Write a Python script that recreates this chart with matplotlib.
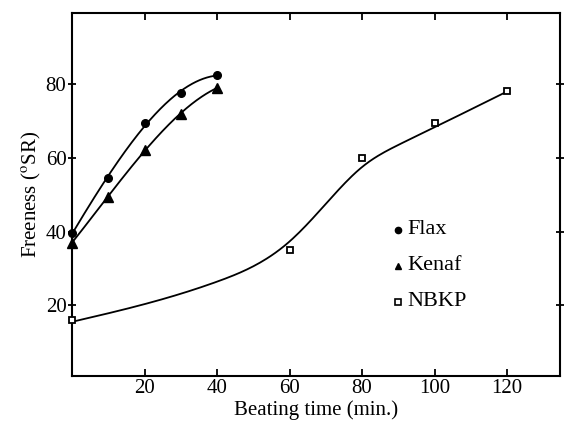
import numpy as np
import matplotlib
matplotlib.use("Agg")
import matplotlib.pyplot as plt

plt.rcParams["font.family"] = ["Liberation Serif", "DejaVu Serif"]
plt.rcParams["mathtext.fontset"] = "stix"

# Measured freeness values
flax_t = [0, 10, 20, 30, 40]
flax_sr = [39.5, 54.5, 69.5, 77.5, 82.5]

kenaf_t = [0, 10, 20, 30, 40]
kenaf_sr = [37, 49.5, 62, 72, 79]

nbkp_t = [0, 60, 80, 100, 120]
nbkp_sr = [16, 35, 60, 69.5, 78]

# Hand-drawn trend line for NBKP
nbkp_trend_t = [0, 20, 40, 60, 70, 80, 90, 100, 120]
nbkp_trend_sr = [15.5, 20.3, 26.4, 37.3, 47.5, 57.5, 63.5, 68.3, 78]

x_ticks = [20, 40, 60, 80, 100, 120]
y_ticks = [20, 40, 60, 80]


def spline(xs, ys, n=200):
    """Natural cubic spline through the given knots."""
    xs = np.asarray(xs, float)
    ys = np.asarray(ys, float)
    k = len(xs)
    h = np.diff(xs)
    A = np.zeros((k, k))
    r = np.zeros(k)
    A[0, 0] = A[-1, -1] = 1
    for i in range(1, k - 1):
        A[i, i - 1] = h[i - 1]
        A[i, i] = 2 * (h[i - 1] + h[i])
        A[i, i + 1] = h[i]
        r[i] = 3 * ((ys[i + 1] - ys[i]) / h[i] - (ys[i] - ys[i - 1]) / h[i - 1])
    c = np.linalg.solve(A, r)
    b = (np.diff(ys) / h) - h * (2 * c[:-1] + c[1:]) / 3
    d = np.diff(c) / (3 * h)
    xx = np.linspace(xs[0], xs[-1], n)
    idx = np.clip(np.searchsorted(xs, xx) - 1, 0, k - 2)
    dx = xx - xs[idx]
    yy = ys[idx] + b[idx] * dx + c[idx] * dx ** 2 + d[idx] * dx ** 3
    return xx, yy


def fit(xs, ys, deg=3, n=200):
    """Least-squares polynomial trend through the points."""
    p = np.polyfit(xs, ys, deg)
    xx = np.linspace(min(xs), max(xs), n)
    return xx, np.polyval(p, xx)


fig = plt.figure(figsize=(5.68, 4.29), dpi=100)
ax = fig.add_axes([72 / 568, 1 - 376 / 429, (560 - 72) / 568, (376 - 13) / 429])

for xx, yy in (fit(flax_t, flax_sr), fit(kenaf_t, kenaf_sr),
               spline(nbkp_trend_t, nbkp_trend_sr)):
    ax.plot(xx, yy, color="black", lw=1.3, zorder=2)

ax.plot(flax_t, flax_sr, "o", color="black", ms=5.5, zorder=3, clip_on=False)
ax.plot(kenaf_t, kenaf_sr, "^", color="black", ms=6.5, zorder=3, clip_on=False)
ax.plot(nbkp_t, nbkp_sr, "s", mfc="white", mec="black", mew=1.3, ms=5,
        zorder=3, clip_on=False)

ax.set_xlim(0, 134.6)
ax.set_ylim(0.8, 99.3)
ax.set_xticks(x_ticks)
ax.set_yticks(y_ticks)

for s in ax.spines.values():
    s.set_linewidth(1.5)

ax.tick_params(axis="y", left=True, right=True, direction="out",
               length=6, width=1.3, labelsize=15, pad=1)
ax.tick_params(axis="y", right=True, direction="inout")
ax.tick_params(axis="x", top=True, bottom=True, direction="in", length=5,
               width=1.3, labelsize=15, pad=2)

ax.set_xlabel("Beating time (min.)", fontsize=15, labelpad=2)
ax.set_ylabel(r"Freeness ($^{\rm o}$SR)", fontsize=15, labelpad=2)

# Key to the symbols
leg_y = [40.5, 30.7, 20.9]
leg_names = ["Flax", "Kenaf", "NBKP"]
leg_style = [dict(marker="o", color="black", ms=4.5),
             dict(marker="^", color="black", ms=5),
             dict(marker="s", mfc="white", mec="black", mew=1.2, ms=4.5)]
for yv, name, st in zip(leg_y, leg_names, leg_style):
    ax.plot([89.8], [yv], ls="none", **st)
    ax.text(92.5, yv, name, fontsize=16, va="center", ha="left")

fig.savefig("out.png", dpi=100)
